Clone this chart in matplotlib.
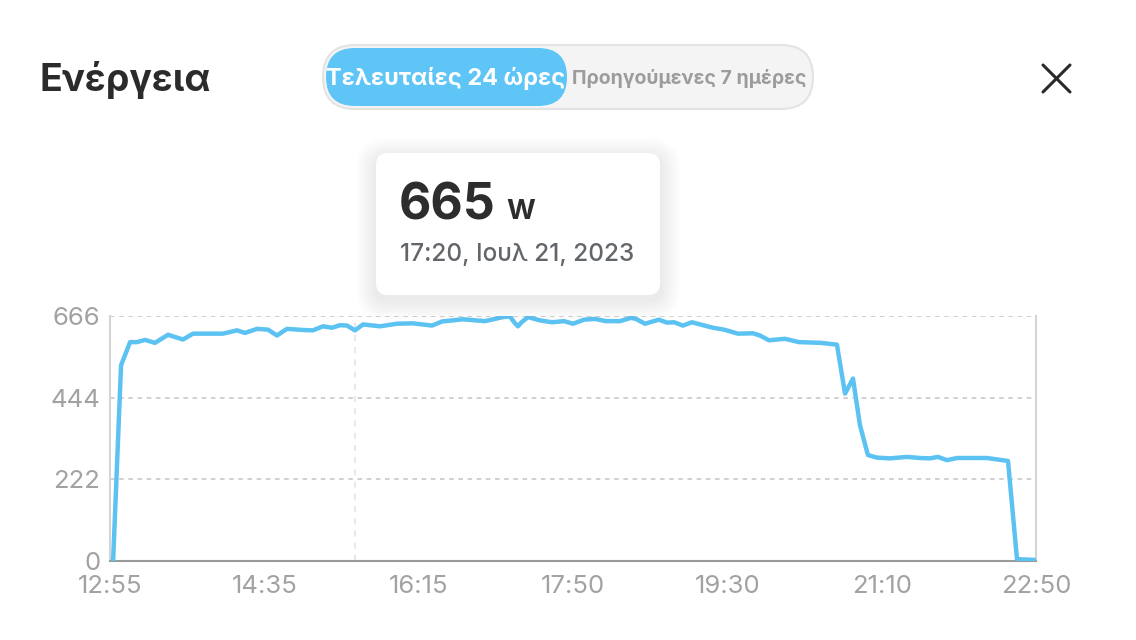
import numpy as np
import matplotlib
matplotlib.use("Agg")
import matplotlib.pyplot as plt
from matplotlib.patches import FancyBboxPatch

plt.rcParams['font.family'] = ['Inter', 'DejaVu Sans']

# data (minutes after 12:55, watts)
minutes = [2, 7.1, 12.9, 17.3, 22.5, 28.9, 37.3, 46.9, 53.3, 72.6,
           81.6, 86.7, 94.5, 101.5, 107.3, 113.7, 124.0, 130.4, 136.9, 142.6,
           147.8, 152.3, 157.4, 162.6, 173.5, 184.4, 194.7, 206.9, 213.3, 226.8,
           240.9, 252.5, 257.0, 259.5, 262.1, 264.7, 268.6, 276.3, 284.0, 291.7,
           297.5, 304.6, 311.6, 318.7, 327.7, 334.8, 338.0, 343.7, 352.7, 357.9,
           362.4, 368.2, 373.9, 387.4, 394.5, 403.5, 413.1, 417.6, 423.4, 433.7,
           442.7, 456.8, 467.1, 472.3, 477.4, 481.9, 487.0, 492.8, 501.2, 512.1,
           520.4, 526.9, 532.0, 537.8, 544.2, 563.5, 577.0, 582.8, 594.3]
watts = [0, 532, 595, 595, 601, 593, 615, 602, 618, 618,
         627, 620, 631, 629, 613, 631, 628, 627, 638, 634,
         641, 640, 627, 643, 638, 645, 646, 640, 651, 657,
         652, 663, 665, 650, 638, 650, 663, 654, 649, 652,
         645, 656, 658, 652, 652, 661, 658, 645, 656, 648,
         649, 640, 649, 634, 629, 618, 619, 613, 600, 604,
         595, 593, 588, 455, 496, 369, 288, 281, 279, 283,
         280, 279, 283, 274, 280, 280, 272, 5, 3]

x_labels = ['12:55', '14:35', '16:15', '17:50', '19:30', '21:10', '22:50']
y_ticks = [0, 222, 444, 666]
span = 595
crosshair = 157.4

title = 'Ενέργεια'
tab_on = 'Τελευταίες 24 ώρες'
tab_off = 'Προηγούμενες 7 ημέρες'
tip_value = '665'
tip_unit = 'W'
tip_date = '17:20, Ιουλ 21, 2023'

W, H = 1136, 640
fig = plt.figure(figsize=(W / 100, H / 100), dpi=100)
fig.patch.set_facecolor('white')

# main chart
ax = fig.add_axes([110 / W, 1 - 561 / H, 926 / W, 245 / H])
ax.plot(minutes, watts, color='#5bc2f2', lw=3.2, solid_joinstyle='round', zorder=3)
ax.set_xlim(0, span)
ax.set_ylim(0, 666)
ax.set_yticks(y_ticks)
ax.set_yticklabels([str(v) for v in y_ticks])
ax.set_xticks(np.linspace(0, span, len(x_labels)))
ax.set_xticklabels(x_labels)
ax.tick_params(length=0, labelsize=18.5, labelcolor='#a2a2a2')
ax.tick_params(axis='y', pad=7)
ax.tick_params(axis='x', pad=10)
for v in y_ticks[1:]:
    ax.axhline(v, color='#c4c4c4', lw=1.1, ls=(0, (3, 3)), zorder=1)
ax.axvline(crosshair, color='#e2e2e2', lw=1.1, ls=(0, (4, 4)), zorder=1)
ax.spines['top'].set_visible(False)
ax.spines['left'].set_color('#d4d4d4')
ax.spines['right'].set_color('#d4d4d4')
ax.spines['left'].set_linewidth(1.5)
ax.spines['right'].set_linewidth(1.5)
ax.spines['bottom'].set_color('#9a9a9a')
ax.spines['bottom'].set_linewidth(1.5)

# overlay in pixel coordinates for the UI bits
ov = fig.add_axes([0, 0, 1, 1], zorder=5)
ov.set_xlim(0, W)
ov.set_ylim(H, 0)
ov.axis('off')
ov.patch.set_alpha(0)

ov.text(40, 80, title, fontsize=27, weight='bold', color='#2b2b2b', va='center', ha='left')

ov.add_patch(FancyBboxPatch((323, 45), 490, 64, boxstyle='round,pad=0,rounding_size=32',
                            facecolor='#f4f4f4', edgecolor='#e3e3e3', lw=1.5))
ov.add_patch(FancyBboxPatch((326, 48), 241, 58, boxstyle='round,pad=0,rounding_size=29',
                            facecolor='#5ec5f6', edgecolor='none'))
ov.text(446, 78, tab_on, fontsize=17, weight='bold', color='white', va='center', ha='center')
ov.text(689, 78, tab_off, fontsize=14, weight='bold', color='#9c9c9c', va='center', ha='center')

ov.plot([1043, 1070], [65, 92], color='#2a2a2a', lw=2.2, solid_capstyle='round')
ov.plot([1070, 1043], [65, 92], color='#2a2a2a', lw=2.2, solid_capstyle='round')

# tooltip with soft shadow
for i in range(10, 0, -1):
    ov.add_patch(FancyBboxPatch((376 - i * 2, 158 - i * 2), 284 + i * 4, 142 + i * 4,
                                boxstyle='round,pad=0,rounding_size=%d' % (12 + i * 2),
                                facecolor='black', edgecolor='none', alpha=0.006))
ov.add_patch(FancyBboxPatch((376, 153), 284, 142, boxstyle='round,pad=0,rounding_size=12',
                            facecolor='white', edgecolor='none'))
ov.text(399, 206, tip_value, fontsize=36, weight='bold', color='#2d2d2d', va='center', ha='left')
ov.text(506, 212, tip_unit, fontsize=20, weight='bold', color='#2d2d2d', va='center', ha='left')
ov.text(400, 254, tip_date, fontsize=17.5, weight='medium', color='#62666a', va='center', ha='left')

fig.savefig('out.png', dpi=100)
